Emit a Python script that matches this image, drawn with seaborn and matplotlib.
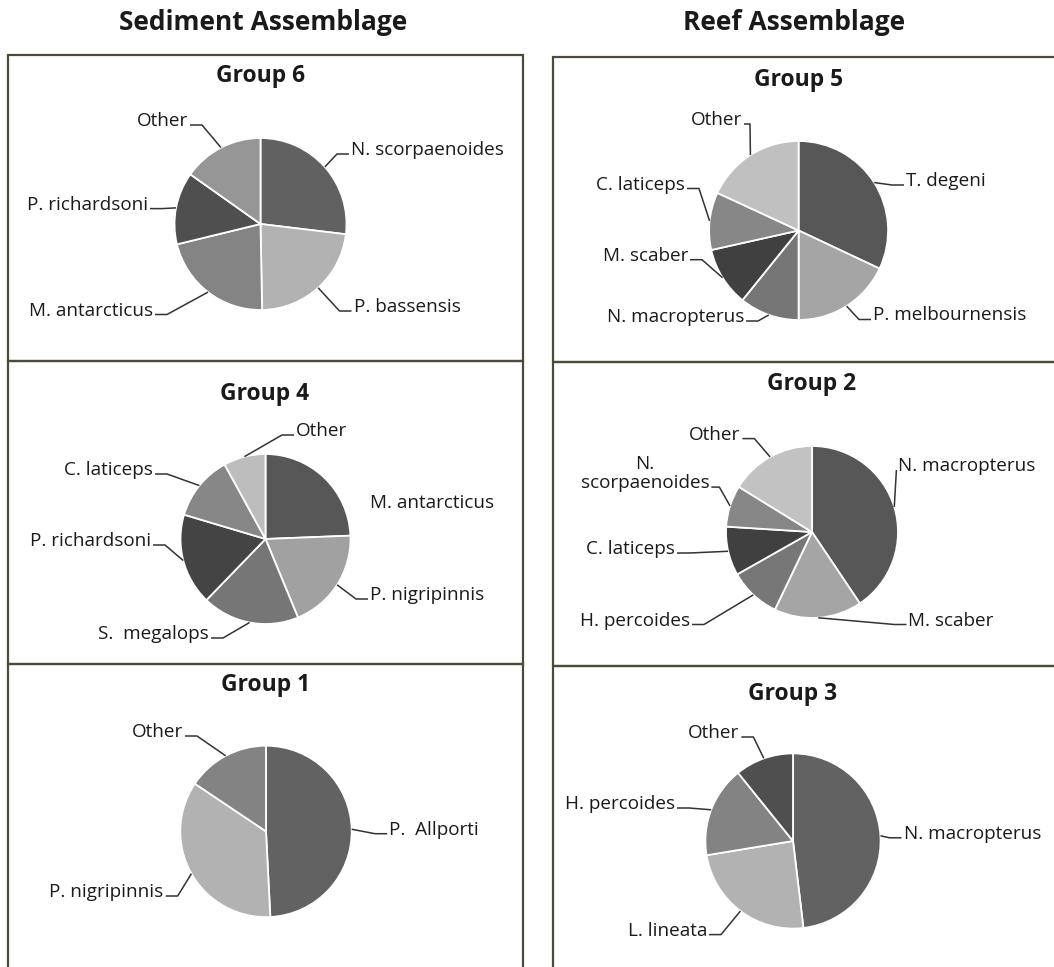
import numpy as np
import matplotlib
matplotlib.use("Agg")
import matplotlib.pyplot as plt
from matplotlib.patches import Rectangle
import seaborn as sns

sns.set_theme(style="white")
plt.rcParams['font.family'] = ['Open Sans', 'DejaVu Sans']

# ---------------- data ----------------
column_titles = ["Sediment Assemblage", "Reef Assemblage"]

g6_labels = ["N. scorpaenoides", "P. bassensis", "M. antarcticus", "P. richardsoni", "Other"]
g6_values = [26.9, 22.8, 21.5, 13.6, 15.2]
g6_colors = ["#616161", "#b2b2b2", "#848484", "#4f4f4f", "#969696"]

g5_labels = ["T. degeni", "P. melbournensis", "N. macropterus", "M. scaber", "C. laticeps", "Other"]
g5_values = [32.0, 18.0, 10.8, 10.7, 10.4, 18.1]
g5_colors = ["#575757", "#a5a5a5", "#767676", "#404040", "#878787", "#c0c0c0"]

g4_labels = ["M. antarcticus", "P. nigripinnis", "S.  megalops", "P. richardsoni", "C. laticeps", "Other"]
g4_values = [24.4, 19.4, 18.5, 17.4, 12.4, 8.0]
g4_colors = ["#575757", "#a1a1a1", "#767676", "#444444", "#878787", "#bdbdbd"]

g2_labels = ["N. macropterus", "M. scaber", "H. percoides", "C. laticeps", "N.\nscorpaenoides", "Other"]
g2_values = [40.6, 16.5, 9.7, 9.2, 7.8, 16.2]
g2_colors = ["#575757", "#a5a5a5", "#777777", "#404040", "#878787", "#c2c2c2"]

g1_labels = ["P.  Allporti", "P. nigripinnis", "Other"]
g1_values = [49.2, 35.2, 15.6]
g1_colors = ["#626262", "#b2b2b2", "#838383"]

g3_labels = ["N. macropterus", "L. lineata", "H. percoides", "Other"]
g3_values = [48.1, 24.3, 16.8, 10.8]
g3_colors = ["#626262", "#b2b2b2", "#838383", "#4f4f4f"]

# ---------------- layout (pixels, y downward) ----------------
W, H = 1054, 967
panels = [
    dict(title="Group 6", labels=g6_labels, values=g6_values, colors=g6_colors,
         center=(260.5, 224), r=86, title_xy=(260.5, 76), box=(8, 55, 515, 306),
         offs=[(90.5, -74, 'left', 12), (93, 83, 'left', 12), (-107.5, 86.5, 'right', 12),
               (-112.5, -19.4, 'right', 12), (-72.5, -103, 'right', 12)]),
    dict(title="Group 5", labels=g5_labels, values=g5_values, colors=g5_colors,
         center=(798.6, 230.5), r=89.5, title_xy=(798.6, 80), box=(553, 57, 520, 305),
         offs=[(107.4, -49.5, 'left', 12), (74.4, 85, 'left', 12), (-54.6, 86.5, 'right', 12),
               (-110.6, 25.2, 'right', 12), (-113.6, -46, 'right', 12), (-56.6, -110.5, 'right', 6)]),
    dict(title="Group 4", labels=g4_labels, values=g4_values, colors=g4_colors,
         center=(265.5, 539), r=85, title_xy=(265, 393.6), box=(8, 361, 515, 303),
         offs=[(104.5, -36, 'left', None), (104.5, 56, 'left', 12), (-56.5, 95, 'right', 12),
               (-114.5, 2, 'right', 12), (-112.5, -69, 'right', 12), (30.5, -108, 'left', 12)]),
    dict(title="Group 2", labels=g2_labels, values=g2_values, colors=g2_colors,
         center=(812, 532), r=86, title_xy=(812, 384), box=(553, 362, 520, 304),
         offs=[(86.4, -66, 'left', 0), (96.5, 88.5, 'left', 12), (-122, 88.5, 'right', 12),
               (-137, 17, 'right', 12), (-167, -58.6, 'center', 8), (-71.6, -97.4, 'right', 12)]),
    dict(title="Group 1", labels=g1_labels, values=g1_values, colors=g1_colors,
         center=(266, 831.4), r=85.7, title_xy=(266, 685), box=(8, 664, 515, 320),
         offs=[(123, -1.7, 'left', 12), (-102.3, 60.6, 'right', 12), (-83, -99.4, 'right', 12)]),
    dict(title="Group 3", labels=g3_labels, values=g3_values, colors=g3_colors,
         center=(793, 841), r=87.6, title_xy=(793, 693.6), box=(553, 666, 520, 320),
         offs=[(110.5, -7.2, 'left', 12), (-86, 89.6, 'right', 12), (-118, -37, 'right', 12),
               (-53.6, -108, 'right', 12)]),
]

fig = plt.figure(figsize=(W / 100, H / 100), dpi=100)
fig.patch.set_facecolor('white')
ax = fig.add_axes([0, 0, 1, 1])
ax.set_autoscale_on(False)
ax.set_xlim(0, W)
ax.set_ylim(0, H)

def Y(py):
    return H - py

box_color = "#4b4a3c"
text_color = "#1a1a1a"
lead_color = "#333333"

ax.text(263, Y(22), column_titles[0], ha='center', va='center', fontsize=19,
        fontweight='bold', color=text_color)
ax.text(794, Y(22), column_titles[1], ha='center', va='center', fontsize=19,
        fontweight='bold', color=text_color)

pending = []
for p in panels:
    bx, by, bw, bh = p['box']
    ax.add_patch(Rectangle((bx, Y(by + bh)), bw, bh, fill=False, edgecolor=box_color,
                           linewidth=1.6, zorder=1, clip_on=False))
    ax.text(p['title_xy'][0], Y(p['title_xy'][1]), p['title'], ha='center', va='center',
            fontsize=16.5, fontweight='bold', color=text_color)
    cx, cy = p['center']
    wedges, _ = ax.pie(p['values'], colors=p['colors'], startangle=90, counterclock=False,
                       radius=p['r'], center=(cx, Y(cy)), frame=True,
                       wedgeprops=dict(edgecolor='white', linewidth=1.3))
    for w, lab, (dx, dy, ha, leg) in zip(wedges, p['labels'], p['offs']):
        t = ax.text(cx + dx, Y(cy + dy), lab, ha=ha, va='center', fontsize=13.6,
                    color=text_color, linespacing=1.1, multialignment='center')
        mid = np.deg2rad((w.theta1 + w.theta2) / 2)
        anchor = (cx + p['r'] * np.cos(mid), Y(cy) + p['r'] * np.sin(mid))
        pending.append((t, ha, leg, anchor))

ax.set_xlim(0, W)
ax.set_ylim(0, H)
ax.set_aspect('auto')
ax.axis('off')

fig.canvas.draw()
renderer = fig.canvas.get_renderer()
inv = ax.transData.inverted()
for t, ha, leg, anchor in pending:
    if leg is None:
        continue
    bb = t.get_window_extent(renderer)
    (x0, y0), (x1, y1) = inv.transform([(bb.x0, bb.y0), (bb.x1, bb.y1)])
    ly = y0 + 5
    if ha == 'left':
        sx = x0 - 2
        ex = sx - leg
    else:
        sx = x1 + 2
        ex = sx + leg
    ax.plot([sx, ex, anchor[0]], [ly, ly, anchor[1]], color=lead_color, lw=1.1,
            solid_capstyle='butt', zorder=5)

fig.savefig("out.png", dpi=100, facecolor='white')
